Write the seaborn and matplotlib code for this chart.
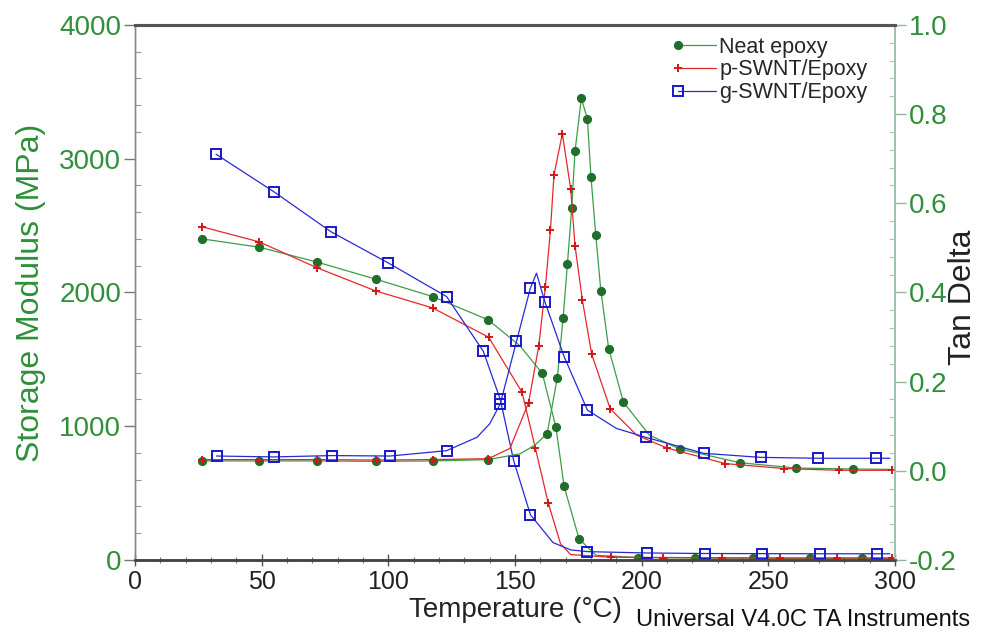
"""
DMA overlay: storage modulus and tan delta for neat epoxy and SWNT/epoxy composites.
"""
import numpy as np
import matplotlib
matplotlib.use("Agg")
import matplotlib.pyplot as plt
from matplotlib.lines import Line2D
from matplotlib.legend_handler import HandlerLine2D
from matplotlib.ticker import MultipleLocator
import seaborn as sns

# ── Data ──────────────────────────────────────────────────────────────────────
NEAT_T_E = [26.5, 49, 72, 95, 117.5, 139.5, 152, 160.8, 166.2, 169.4, 175.3, 182,
            198.6, 221, 244, 266.5, 287, 298]
NEAT_E   = [2400, 2338, 2226, 2099, 1969, 1794, 1600, 1394, 990, 550, 157, 35,
            18, 14, 12, 12, 12, 12]
NEAT_T_TAN = [26.5, 49, 72, 95, 117.5, 139.5, 152, 158, 162.7, 166.7, 169, 170.7,
              172.4, 173.7, 176.2, 178.6, 180, 181.9, 183.9, 187, 192.8, 203, 215,
              238.8, 261, 283.6, 298]
NEAT_TAN   = [0.022, 0.022, 0.022, 0.021, 0.022, 0.025, 0.038, 0.058, 0.083, 0.208,
              0.342, 0.463, 0.590, 0.716, 0.835, 0.789, 0.659, 0.529, 0.404, 0.274,
              0.154, 0.080, 0.049, 0.018, 0.006, 0.004, 0.003]

P_T_E = [26.5, 49, 72, 95, 117.5, 139.6, 152.8, 158, 163.1, 168, 172, 188, 208.5,
         231.6, 254.6, 277, 298.7]
P_E   = [2490, 2378, 2183, 2011, 1884, 1665, 1253, 840, 428, 120, 40, 20, 18,
         16, 15, 15, 15]
P_T_TAN = [26.5, 49, 72, 95, 117.5, 139.5, 148, 155.4, 159.4, 162, 164, 165.4, 168.7,
           172, 173.7, 176.6, 180.3, 187.6, 198, 210, 233, 256, 278, 298.7]
P_TAN   = [0.025, 0.025, 0.025, 0.024, 0.025, 0.027, 0.050, 0.153, 0.280, 0.412,
           0.539, 0.663, 0.756, 0.632, 0.505, 0.383, 0.261, 0.139, 0.080, 0.051,
           0.016, 0.005, 0.001, 0.001]

G_T_E = [32, 55, 77.5, 100, 123, 137.5, 144.2, 149.5, 156.1, 165, 172, 178.6, 202,
         225, 247.4, 270.4, 292.8, 298]
G_E   = [3033, 2750, 2452, 2220, 1969, 1560, 1200, 742, 338, 130, 75, 62, 52,
         48, 47, 46, 46, 46]
G_T_TAN = [32.2, 54.9, 77.9, 100.7, 123, 135, 140, 144.2, 150.6, 156.1, 158.5, 161.8,
           169.4, 178.6, 190, 201.6, 224.6, 247, 269.8, 292.5, 298]
G_TAN   = [0.033, 0.031, 0.034, 0.033, 0.045, 0.075, 0.105, 0.150, 0.290, 0.410,
           0.443, 0.379, 0.256, 0.136, 0.095, 0.075, 0.039, 0.030, 0.028, 0.028,
           0.028]

LABELS = ["Neat epoxy", "p-SWNT/Epoxy", "g-SWNT/Epoxy"]

# ── Styling ───────────────────────────────────────────────────────────────────
GREEN_TXT = "#2f8f3a"
STYLES = {
    "Neat epoxy":   dict(color="#3a9e46", marker="o", ms=5.8, mfc="#1f6f2a",
                         mec="#1f6f2a", mew=0.8),
    "p-SWNT/Epoxy": dict(color="#e8262a", marker="+", ms=6, mfc="#e8262a",
                         mec="#d01818", mew=1.4),
    "g-SWNT/Epoxy": dict(color="#2828d8", marker="s", ms=6.5, mfc="none",
                         mec="#1818c8", mew=1.4),
}


def skip(n, drop):
    # marker positions: every read point except pure curve-shape points
    return [i for i in range(n) if i not in drop]


class MarkerLeft(HandlerLine2D):
    """Legend entry drawn TA-style: marker at the left end of the line."""
    def create_artists(self, legend, orig_handle, xdescent, ydescent,
                       width, height, fontsize, trans):
        y = (height - ydescent) / 2
        x0 = -xdescent + 0.08 * width
        line = Line2D([x0, -xdescent + width], [y, y])
        self.update_prop(line, orig_handle, legend)
        line.set_marker("None")
        line.set_markevery(None)
        mk = Line2D([x0], [y])
        self.update_prop(mk, orig_handle, legend)
        mk.set_linestyle("None")
        mk.set_markevery(None)
        line.set_transform(trans)
        mk.set_transform(trans)
        return [line, mk]


def draw(ax, t, v, label, drop, legend_label=None):
    st = STYLES[label]
    sns.lineplot(x=t, y=v, ax=ax, estimator=None, sort=False, lw=0.9,
                 color=st["color"], marker=st["marker"], markersize=st["ms"],
                 markerfacecolor=st["mfc"], markeredgecolor=st["mec"],
                 markeredgewidth=st["mew"], markevery=skip(len(t), drop),
                 label=legend_label)


def run():
    sns.set_theme(style="ticks")
    plt.rcParams["font.family"] = ["Liberation Sans", "DejaVu Sans"]

    fig = plt.figure(figsize=(9.85, 6.37), dpi=100)
    ax = fig.add_axes([0.137, 0.121, 0.7716, 0.84])
    ax2 = ax.twinx()

    draw(ax, NEAT_T_E, NEAT_E, "Neat epoxy", {6, 11, 17})
    draw(ax, P_T_E, P_E, "p-SWNT/Epoxy", {9, 10})
    draw(ax, G_T_E, G_E, "g-SWNT/Epoxy", {9, 10, 17})

    draw(ax2, NEAT_T_TAN, NEAT_TAN, "Neat epoxy", {6, 7, 21, 26}, LABELS[0])
    draw(ax2, P_T_TAN, P_TAN, "p-SWNT/Epoxy", {6, 18}, LABELS[1])
    draw(ax2, G_T_TAN, G_TAN, "g-SWNT/Epoxy", {5, 6, 10, 14, 20}, LABELS[2])

    ax.set_xlim(0, 300)
    ax.set_ylim(0, 4000)
    ax2.set_ylim(-0.2, 1.0)

    ax.xaxis.set_major_locator(MultipleLocator(50))
    ax.xaxis.set_minor_locator(MultipleLocator(10))
    ax.yaxis.set_major_locator(MultipleLocator(1000))
    ax.yaxis.set_minor_locator(MultipleLocator(200))
    ax2.yaxis.set_major_locator(MultipleLocator(0.2))
    ax2.yaxis.set_minor_locator(MultipleLocator(0.04))
    ax2.yaxis.set_major_formatter(plt.FuncFormatter(lambda v, p: f"{v:.1f}"))

    ax.tick_params(axis="x", which="major", direction="inout", length=9, width=1,
                   labelsize=18, colors="#555555", labelcolor="#222222", pad=3)
    ax.tick_params(axis="x", which="minor", direction="inout", length=5,
                   width=0.8, colors="#777777")
    ax.tick_params(axis="y", which="major", direction="out", length=8, width=1,
                   labelsize=20, colors="#777777", labelcolor=GREEN_TXT, pad=2)
    ax.tick_params(axis="y", which="minor", direction="in", length=4,
                   width=0.8, colors="#999999")
    ax2.tick_params(axis="y", which="major", direction="out", length=8, width=1,
                    labelsize=20, colors="#8fb89a", labelcolor=GREEN_TXT, pad=2)
    ax2.tick_params(axis="y", which="minor", direction="in", length=4,
                    width=0.8, colors="#a8c8b0")

    for a in (ax, ax2):
        a.spines["top"].set_color("#555555")
        a.spines["top"].set_linewidth(2.2)
        a.spines["bottom"].set_color("#444444")
        a.spines["bottom"].set_linewidth(1.8)
        a.spines["left"].set_color("#888888")
        a.spines["left"].set_linewidth(1.0)
        a.spines["right"].set_color("#9cc4a6")
        a.spines["right"].set_linewidth(1.2)

    ax.set_xlabel("Temperature (°C)", fontsize=20, color="#222222", labelpad=2)
    ax.set_ylabel("Storage Modulus (MPa)", fontsize=23, color=GREEN_TXT)
    ax.yaxis.set_label_coords(-0.117, 0.5)
    ax2.set_ylabel("Tan Delta", fontsize=23, color="#222222")
    ax2.yaxis.set_label_coords(1.07, 0.49)

    ax2.legend(loc="upper right", bbox_to_anchor=(0.964, 0.978), frameon=False,
               fontsize=15.5, handlelength=1.95, handletextpad=0.15,
               labelspacing=0.08, borderaxespad=0, borderpad=0,
               handler_map={Line2D: MarkerLeft()})

    fig.text(0.646, 0.018, "Universal V4.0C TA Instruments", fontsize=17,
             color="#111111")

    fig.savefig("out.png", dpi=100)
    plt.close(fig)


if __name__ == "__main__":
    run()
